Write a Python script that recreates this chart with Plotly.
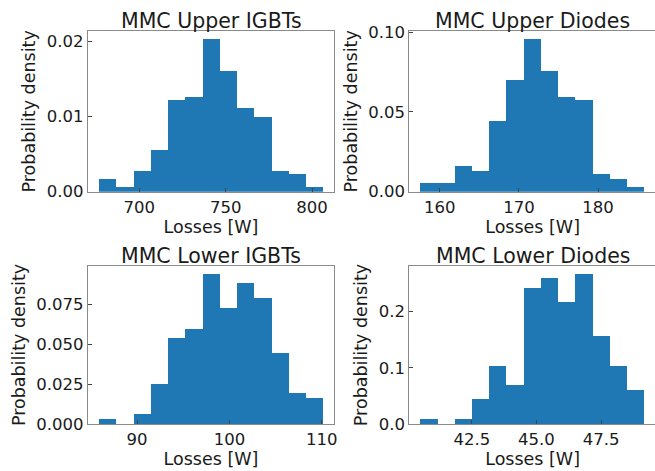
import plotly.graph_objects as go

FONT = "DejaVu Sans"
BAR_COLOR = "#1f77b4"
FRAME_COLOR = "#8a8a8a"
TEXT_COLOR = "#1a1a1a"

titles = ["MMC Upper IGBTs", "MMC Upper Diodes", "MMC Lower IGBTs", "MMC Lower Diodes"]

upper_igbt_edges = [676.6, 686.6, 696.6, 706.6, 716.5, 726.5, 736.5, 746.5, 756.5,
                    766.5, 776.4, 786.4, 796.4, 806.4]
upper_igbt_density = [0.00169, 0.00058, 0.0028, 0.00556, 0.01222, 0.01267, 0.0204,
                      0.0161, 0.0111, 0.0100, 0.0028, 0.00236, 0.00058]

upper_diode_edges = [157.56, 159.74, 161.92, 164.10, 166.28, 168.46, 170.64, 172.82,
                     175.00, 177.18, 179.36, 181.54, 183.72, 185.90]
upper_diode_density = [0.0052, 0.0052, 0.0161, 0.0132, 0.0441, 0.0701, 0.0960,
                       0.0757, 0.0596, 0.0575, 0.0109, 0.0079, 0.0027]

lower_igbt_edges = [85.87, 87.74, 89.60, 91.47, 93.34, 95.21, 97.07, 98.94, 100.81,
                    102.67, 104.54, 106.41, 108.27, 110.14]
lower_igbt_density = [0.0033, 0.0, 0.0064, 0.0253, 0.0538, 0.0596, 0.0943, 0.0725,
                      0.0881, 0.0789, 0.0446, 0.0193, 0.0162]

lower_diode_edges = [40.52, 41.19, 41.85, 42.52, 43.18, 43.85, 44.52, 45.18, 45.85,
                     46.51, 47.18, 47.85, 48.51, 49.18]
lower_diode_density = [0.0094, 0.0, 0.0094, 0.045, 0.1035, 0.0702, 0.2427, 0.2596,
                       0.2164, 0.2678, 0.1561, 0.1035, 0.0614]

x_ticks = [[700, 750, 800], [160, 170, 180], [90, 100, 110], [42.5, 45.0, 47.5]]
x_ticktext = [["700", "750", "800"], ["160", "170", "180"], ["90", "100", "110"],
              ["42.5", "45.0", "47.5"]]
y_ticks = [[0, 0.01, 0.02], [0, 0.05, 0.10], [0, 0.025, 0.05, 0.075], [0, 0.1, 0.2]]
y_ticktext = [["0.00", "0.01", "0.02"], ["0.00", "0.05", "0.10"],
              ["0.000", "0.025", "0.050", "0.075"], ["0.0", "0.1", "0.2"]]

panels = [(upper_igbt_edges, upper_igbt_density),
          (upper_diode_edges, upper_diode_density),
          (lower_igbt_edges, lower_igbt_density),
          (lower_diode_edges, lower_diode_density)]

# the right column runs slightly past the window edge, as in the cropped original
W, H = 660, 471
col_x = [(87.7 / W, 334.3 / W), (409.3 / W, 655.9 / W)]
row_y = [(1 - 191.7 / H, 1 - 31 / H), (1 - 424 / H, 1 - 266 / H)]
box_w = (334.3 - 87.7) / W

fig = go.Figure()
layout = {}
annotations = []

for i, (edges, density) in enumerate(panels):
    r, c = divmod(i, 2)
    n = "" if i == 0 else str(i + 1)
    centers = [(a + b) / 2 for a, b in zip(edges[:-1], edges[1:])]
    widths = [b - a for a, b in zip(edges[:-1], edges[1:])]
    fig.add_trace(go.Bar(x=centers, y=density, width=widths,
                         marker=dict(color=BAR_COLOR, line=dict(width=0)),
                         xaxis="x" + n, yaxis="y" + n, showlegend=False))

    span = edges[-1] - edges[0]
    ymax = max(density) * 1.05
    common = dict(showline=True, mirror=True, linecolor=FRAME_COLOR, linewidth=1,
                  showgrid=False, zeroline=False, ticks="inside", ticklen=4,
                  tickcolor="#444", tickfont=dict(size=16.5, color=TEXT_COLOR),
                  automargin=False)
    layout["xaxis" + n] = dict(common, domain=list(col_x[c]), anchor="y" + n,
                               range=[edges[0] - 0.05 * span, edges[-1] + 0.05 * span],
                               tickmode="array", tickvals=x_ticks[i], ticktext=x_ticktext[i],
                               title=dict(text="Losses [W]", standoff=0,
                                          font=dict(size=17.5, color=TEXT_COLOR)))
    layout["yaxis" + n] = dict(common, domain=list(row_y[r]), anchor="x" + n,
                               range=[0, ymax],
                               tickmode="array", tickvals=y_ticks[i], ticktext=y_ticktext[i],
                               title=dict(text="Probability density", standoff=6,
                                          font=dict(size=17.5, color=TEXT_COLOR)))
    x0 = col_x[c][0]
    annotations.append(dict(text=titles[i], x=x0 + box_w / 2,
                            y=row_y[r][1], xref="paper", yref="paper",
                            xanchor="center", yanchor="bottom", yshift=-4, showarrow=False,
                            font=dict(size=20.5, color=TEXT_COLOR)))

fig.update_layout(**layout)
fig.update_layout(annotations=annotations, bargap=0,
                  width=W, height=H, margin=dict(l=0, r=0, t=0, b=0),
                  font=dict(family=FONT, color=TEXT_COLOR),
                  plot_bgcolor="white", paper_bgcolor="white")

# drop the page's default body margin so the figure sits at the window's corner
fig.write_html("out.html", config={"displayModeBar": False},
               post_script="document.body.style.margin='0';document.body.style.overflow='hidden';")
